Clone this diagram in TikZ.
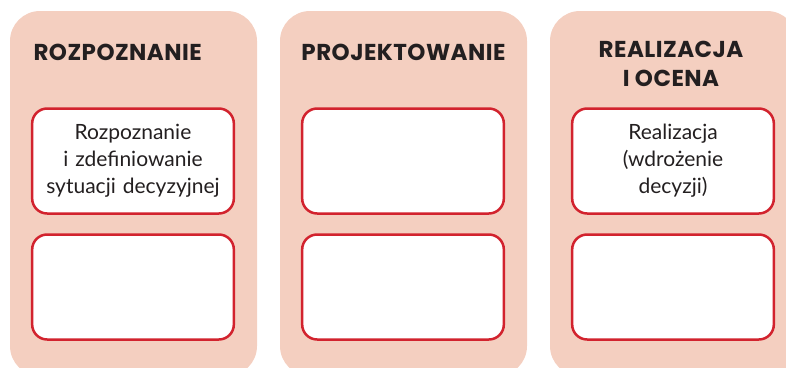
\documentclass[tikz,border=0pt]{standalone}
\usepackage{fontspec}
\setmainfont{Lato}
\newfontfamily\headfont[LetterSpace=2]{Poppins}
\definecolor{peach}{HTML}{F4CFC0}
\definecolor{boxred}{HTML}{D2232E}
\definecolor{ink}{HTML}{231F20}

\begin{document}
\begin{tikzpicture}[x=1pt,y=-1pt]
    \tikzset{panel/.style = {shape=rectangle, fill=peach, rounded corners=30pt, minimum width=247pt, minimum height=365pt, inner sep=0pt}}
    \tikzset{card/.style = {shape=rectangle, draw=boxred, line width=2.5pt, fill=white, rounded corners=15pt, minimum width=201pt, minimum height=105pt, text width=195pt, align=center, font=\fontsize{21}{27}\selectfont, text=ink}}
    \tikzset{head/.style = {font=\headfont\bfseries\fontsize{23}{29}\selectfont, text=ink, align=center}}
    \clip (0,0) rectangle (786,367);
    % panels
    \node[panel] (p1) at (133.5,193.5) {};
    \node[panel] (p2) at (403.5,193.5) {};
    \node[panel] (p3) at (673.5,193.5) {};
    % headings
    \node[head, anchor=west] (h1) at (30,52) {ROZPOZNANIE};
    \node[head] (h2) at (p2.center |- h1) {PROJEKTOWANIE};
    \node[head] (h3) at (671,64) {REALIZACJA\\I OCENA};
    % cards
    \node[card] (a1) at (133,161) {Rozpoznanie\\i zdefiniowanie\\sytuacji decyzyjnej};
    \node[card] (b1) at (133,287) {};
    \node[card] (a2) at (403,161) {};
    \node[card] (b2) at (403,287) {};
    \node[card] (a3) at (673,161) {Realizacja\\(wdrożenie\\decyzji)};
    \node[card] (b3) at (673,287) {};
\end{tikzpicture}
\end{document}
